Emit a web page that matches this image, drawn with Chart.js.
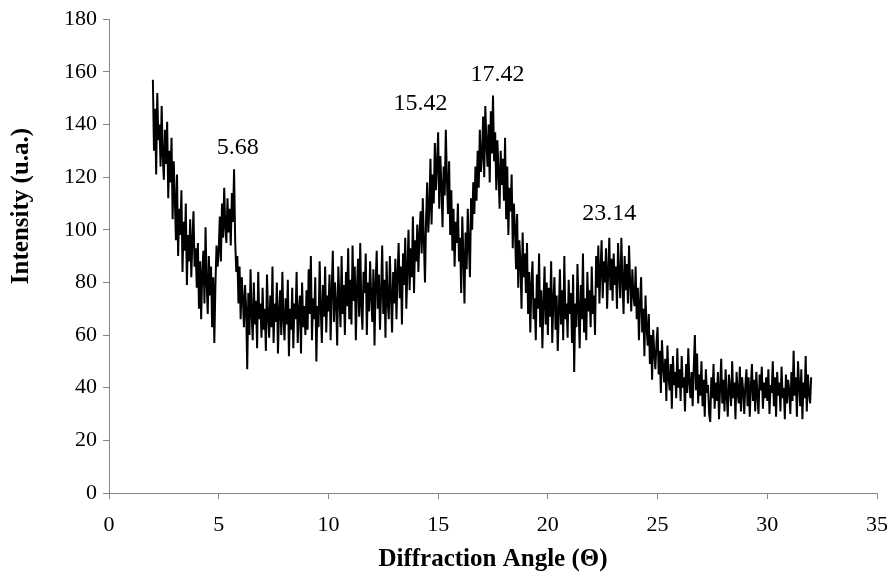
<!DOCTYPE html>
<html lang="en">
  <head>
    <meta charset="UTF-8" />
    <title>XRD</title>
    <script src="https://cdn.jsdelivr.net/npm/chart.js"></script>
    <style>
      html, body { margin: 0; padding: 0; background: #fff; }
      #wrap { width: 891px; height: 576px; }
    </style>
  </head>
  <body>
    <div id="wrap"><canvas id="myChart"></canvas></div>
    <script>
      // diffraction pattern, one reading every 0.05 deg from 2.00 to 32.00
      // (one row per degree)
      const angleStart = 2.0;
      const angleStep = 0.05;
      const intensity = [
        157, 130, 146, 121, 152, 134, 140, 124, 147, 128, 119, 138, 125, 141, 112, 130, 118, 135, 104, 126,
        112, 96, 121, 90, 108, 98, 115, 84, 103, 92, 110, 79, 98, 88, 104, 82, 96, 107, 86, 93,
        78, 95, 70, 88, 66, 84, 92, 72, 101, 80, 68, 90, 75, 86, 63, 82, 57, 79, 94, 86,
        92, 105, 88, 110, 97, 116, 101, 95, 112, 99, 108, 94, 114, 103, 123, 96, 84, 90, 72, 86,
        66, 82, 74, 63, 79, 70, 47, 76, 60, 85, 68, 58, 80, 64, 73, 55, 84, 66, 72, 59,
        78, 62, 70, 54, 83, 67, 59, 75, 63, 86, 57, 72, 65, 80, 53, 69, 77, 60, 84, 66,
        58, 74, 64, 81, 52, 70, 62, 78, 55, 72, 66, 84, 57, 69, 75, 53, 80, 63, 71, 60,
        77, 62, 85, 68, 90, 58, 74, 66, 82, 50, 71, 63, 88, 70, 57, 79, 67, 86, 61, 75,
        69, 83, 58, 77, 92, 65, 80, 72, 56, 86, 74, 63, 90, 68, 79, 60, 84, 71, 93, 66,
        81, 64, 94, 73, 86, 58, 78, 89, 67, 95, 71, 62, 84, 76, 91, 60, 80, 69, 88, 74,
        65, 85, 56, 79, 92, 70, 83, 62, 76, 94, 68, 81, 59, 88, 73, 66, 90, 75, 61, 84,
        72, 89, 66, 83, 95, 74, 86, 64, 91, 79, 97, 70, 85, 100, 77, 93, 82, 105, 76, 96,
        88, 102, 84, 98, 107, 91, 112, 96, 80, 104, 118, 99, 108, 127, 102, 121, 110, 133, 115, 125,
        137, 108, 128, 117, 101, 124, 113, 138, 119, 106, 126, 98, 115, 92, 108, 86, 103, 95, 110, 88,
        97, 76, 105, 90, 72, 99, 85, 108, 94, 82, 112, 100, 118, 106, 124, 111, 130, 116, 138, 122,
        128, 143, 120, 147, 133, 124, 140, 118, 145, 129, 151, 126, 137, 115, 134, 122, 108, 130, 117, 127,
        111, 135, 104, 124, 98, 116, 107, 121, 93, 110, 101, 85, 106, 78, 96, 88, 70, 99, 82, 91,
        76, 95, 68, 84, 61, 79, 88, 66, 74, 58, 83, 70, 91, 63, 77, 55, 72, 86, 64, 80,
        60, 78, 67, 88, 57, 73, 82, 62, 75, 54, 69, 85, 64, 77, 58, 90, 66, 72, 59, 81,
        68, 76, 57, 83, 46, 72, 63, 87, 70, 55, 79, 66, 91, 61, 74, 58, 84, 69, 77, 63,
        86, 68, 75, 60, 90, 78, 94, 72, 85, 96, 74, 88, 80, 93, 70, 84, 97, 77, 89, 73,
        91, 79, 86, 70, 95, 83, 74, 97, 81, 68, 90, 77, 87, 72, 94, 80, 69, 85, 75, 71,
        86, 66, 78, 58, 72, 82, 61, 70, 52, 75, 63, 56, 68, 49, 60, 43, 62, 53, 47, 57,
        63, 45, 54, 38, 58, 48, 42, 51, 35, 56, 44, 39, 49, 32, 52, 41, 46, 36, 55, 40,
        47, 35, 52, 40, 44, 31, 49, 38, 55, 42, 36, 46, 33, 48, 60, 39, 53, 34, 45, 37,
        50, 33, 43, 29, 47, 38, 41, 30, 27, 44, 36, 49, 32, 42, 35, 46, 28, 40, 51, 34,
        43, 31, 47, 37, 29, 45, 40, 33, 50, 36, 42, 28, 46, 38, 34, 48, 31, 44, 39, 30,
        41, 47, 33, 44, 29, 40, 49, 35, 43, 31, 46, 37, 30, 45, 39, 48, 32, 42, 36, 44,
        35, 47, 30, 41, 38, 50, 33, 44, 29, 46, 37, 42, 31, 48, 36, 40, 28, 45, 34, 43,
        39, 30, 46, 35, 54, 37, 44, 29, 50, 41, 33, 47, 28, 42, 36, 52, 31, 45, 38, 34,
        44
      ];

      // peak labels: text, and where the text sits (angle, intensity)
      const peakLabels = ["5.68", "15.42", "17.42", "23.14"];
      const peakLabelX = [5.87, 14.2, 17.7, 22.8];
      const peakLabelY = [131, 148, 159, 106];

      const yTitle = "Intensity (u.a.)";

      const points = intensity.map((v, i) => ({
        x: +(angleStart + i * angleStep).toFixed(2),
        y: v,
      }));

      const axisGray = "#868686";
      const serif = "'Liberation Serif', 'Times New Roman', serif";

      // peak values plus the y title (sits above centre in the original)
      const extraText = {
        id: "extraText",
        afterDraw(chart) {
          const { ctx, scales } = chart;
          ctx.save();
          ctx.fillStyle = "#000";
          ctx.textAlign = "center";
          ctx.textBaseline = "middle";
          ctx.font = "24px " + serif;
          peakLabels.forEach((t, i) => {
            ctx.fillText(
              t,
              scales.x.getPixelForValue(peakLabelX[i]),
              scales.y.getPixelForValue(peakLabelY[i])
            );
          });
          ctx.translate(22, 206);
          ctx.rotate(-Math.PI / 2);
          ctx.font = "bold 25px " + serif;
          ctx.fillText(yTitle, 0, 0);
          ctx.restore();
        },
      };

      const config = {
        type: "line",
        data: {
          datasets: [
            {
              data: points,
              borderColor: "#000",
              borderWidth: 2,
              pointRadius: 0,
              tension: 0,
            },
          ],
        },
        options: {
          responsive: true,
          maintainAspectRatio: false,
          animation: false,
          layout: { padding: { left: 0, right: 14, top: 18, bottom: 0 } },
          plugins: { legend: { display: false }, tooltip: { enabled: false } },
          scales: {
            x: {
              type: "linear",
              min: 0,
              max: 35,
              afterFit: (s) => {
                s.height = 83;
                s.paddingLeft = 0;
                s.paddingRight = 0;
              },
              border: { color: axisGray, width: 1 },
              grid: { drawOnChartArea: false, color: axisGray, tickLength: 6 },
              ticks: {
                stepSize: 5,
                color: "#000",
                padding: 13,
                font: { family: serif, size: 22 },
              },
              title: {
                display: true,
                text: "Diffraction Angle (\u0398)",
                color: "#000",
                font: { family: serif, size: 25, weight: "bold" },
                padding: { top: 0, bottom: 1 },
              },
            },
            y: {
              min: 0,
              max: 180,
              afterFit: (s) => { s.width = 109; },
              border: { color: axisGray, width: 1 },
              grid: { drawOnChartArea: false, color: axisGray, tickLength: 6 },
              ticks: {
                stepSize: 20,
                color: "#000",
                padding: 6,
                font: { family: serif, size: 22 },
              },
            },
          },
        },
        plugins: [extraText],
      };

      new Chart(document.getElementById("myChart"), config);
    </script>
  </body>
</html>
